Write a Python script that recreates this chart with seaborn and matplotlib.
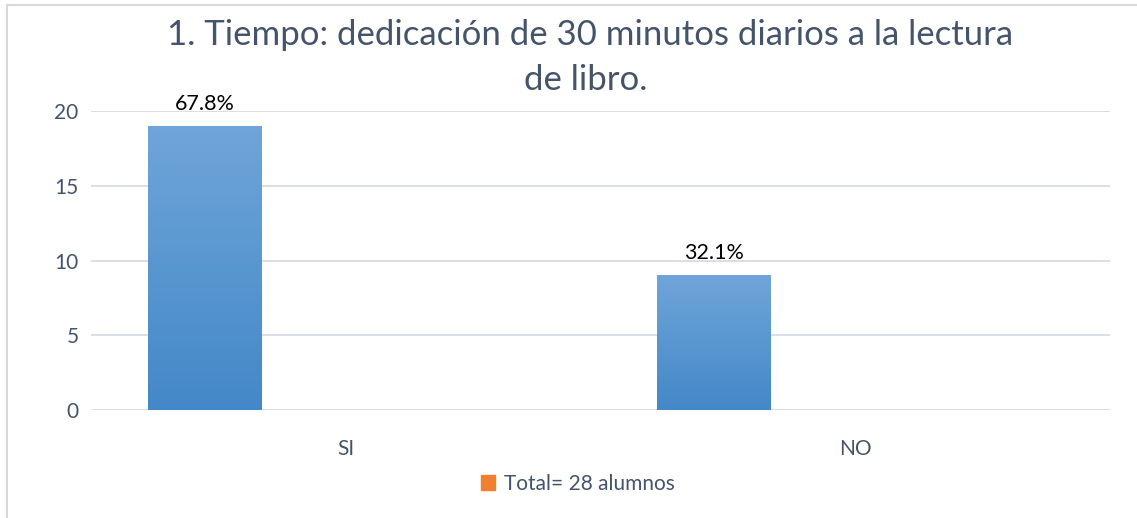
import numpy as np
import pandas as pd
import seaborn as sns
import matplotlib.pyplot as plt
from matplotlib.colors import LinearSegmentedColormap
from matplotlib.patches import Patch, Rectangle

categorias = ["SI", "NO"]
alumnos = [19, 9]
total_serie = [0, 0]
etiquetas = ["67.8%", "32.1%"]
titulo = ["1. Tiempo: dedicación de 30 minutos diarios a la lectura",
          "de libro."]
leyenda = "Total= 28 alumnos"

sns.set_theme(style="white")
plt.rcParams["font.family"] = ["Lato", "DejaVu Sans"]

texto = "#44546A"
df = pd.DataFrame({
    "categoria": categorias * 2,
    "valor": alumnos + total_serie,
    "serie": ["Alumnos"] * 2 + [leyenda] * 2,
})

fig = plt.figure(figsize=(11.37, 5.18), dpi=100)
ax = fig.add_axes([0.080, 0.2085, 0.896, 0.577])
sns.barplot(data=df, x="categoria", y="valor", hue="serie",
            palette=["#5599D6", "#ED7D31"], width=1.105, gap=0.595,
            linewidth=0, legend=False, ax=ax)

# gradient fill on the blue bars, like the Excel original
cmap = LinearSegmentedColormap.from_list("azul", ["#4388C8", "#6FA5D9"])
grad = np.linspace(0, 1, 256).reshape(-1, 1)
for bar in ax.containers[0]:
    x0, y0 = bar.get_x(), bar.get_y()
    w, h = bar.get_width(), bar.get_height()
    ax.imshow(grad, extent=[x0, x0 + w, y0, y0 + h], origin="lower",
              aspect="auto", cmap=cmap, zorder=bar.get_zorder() + 0.1)

ax.bar_label(ax.containers[0], labels=etiquetas, padding=9, fontsize=15.5,
             color="black")

ax.set_xlim(-0.5, 1.5)
ax.set_ylim(0, 20)
ax.set_yticks([0, 5, 10, 15, 20])
ax.yaxis.grid(True, color="#D9DEE6", linewidth=1.4)
ax.set_axisbelow(True)
sns.despine(ax=ax, left=True, bottom=True)
ax.tick_params(axis="y", length=0, pad=9, labelsize=15, labelcolor=texto)
ax.tick_params(axis="x", length=0, pad=21, labelsize=15, labelcolor=texto)
ax.set_xlabel("")
ax.set_ylabel("")

# title in two lines, as in the original
fig.text(0.519, 1 - 45 / 518, titulo[0], ha="center", va="baseline",
         fontsize=25, color=texto)
fig.text(0.515, 1 - 90 / 518, titulo[1], ha="center", va="baseline",
         fontsize=25, color=texto)

fig.legend(handles=[Patch(color="#F07F2F", label=leyenda)], loc="center",
           bbox_to_anchor=(0.508, 0.066), frameon=False, fontsize=15,
           handlelength=0.7, handleheight=0.7, handletextpad=0.4,
           labelcolor=texto)

fig.patches.append(Rectangle((7 / 1137, -0.1), 1.1, 1 - 5 / 518 + 0.1,
                             transform=fig.transFigure, fill=False,
                             edgecolor="#D9D9D9", linewidth=1.5))

fig.savefig("out.png", dpi=100)
